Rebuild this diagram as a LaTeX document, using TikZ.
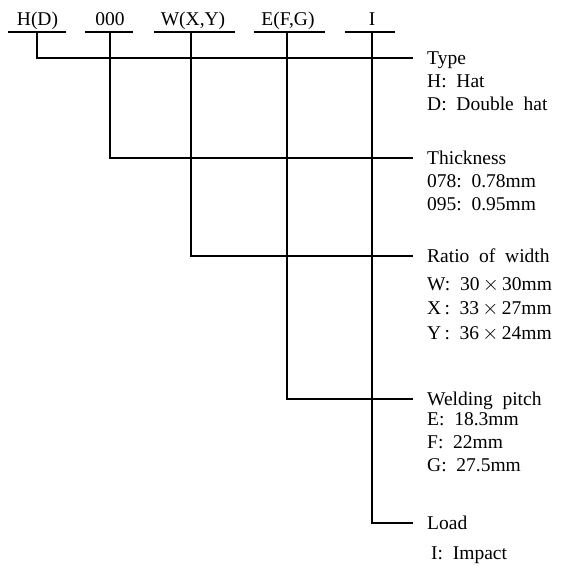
\documentclass[tikz,border=0pt]{standalone}
\usepackage{fontspec}
\setmainfont{Liberation Serif}
\newcommand\dsp{\hspace{0.5em}}
\newcommand\tms{\,$\times$\,}
\begin{document}
\begin{tikzpicture}[x=1pt,y=-1pt,
  lab/.style={inner sep=0pt, anchor=base, font=\fontsize{19.5}{23}\selectfont},
  txt/.style={inner sep=0pt, anchor=base west, font=\fontsize{19.5}{23}\selectfont},
  ln/.style={line width=1.2pt},
  lead/.style={ln}]
\useasboundingbox (0,0) rectangle (566,566);
% top code labels
\node[lab] (hd) at (37.5,25) {H(D)};
\node[lab] (th) at (110,25) {000};
\node[lab] (wx) at (193,25) {W(X,Y)};
\node[lab] (ef) at (288,25) {E(F,G)};
\node[lab] (ld) at (372,25) {I};
% underlines
\draw[ln] (8,32) -- (66,32);
\draw[ln] (85,32) -- (133,32);
\draw[ln] (154,32) -- (235,32);
\draw[ln] (254,32) -- (325,32);
\draw[ln] (345,32) -- (395,32);
\coordinate (u1) at (37,32);
\coordinate (u2) at (110,32);
\coordinate (u3) at (191,32);
\coordinate (u4) at (287,32);
\coordinate (u5) at (372,32);
% right side texts
\node[txt] (type) at (427,64.5) {Type};
\node[txt] (t1) at (427,87) {H:\dsp Hat};
\node[txt] (t2) at (427,110) {D:\dsp Double\dsp hat};
\node[txt] (thk) at (427,164.5) {Thickness};
\node[txt] (k1) at (427,187) {078:\dsp 0.78mm};
\node[txt] (k2) at (427,210) {095:\dsp 0.95mm};
\node[txt] (rat) at (427,262.5) {Ratio\dsp of\dsp width};
\node[txt] (r1) at (427,290) {W:\dsp 30\tms 30mm};
\node[txt] (r2) at (427,314.5) {X\,:\dsp 33\tms 27mm};
\node[txt] (r3) at (427,339) {Y\,:\dsp 36\tms 24mm};
\node[txt] (wel) at (427,405.5) {Welding\dsp pitch};
\node[txt] (w1) at (427,425) {E:\dsp 18.3mm};
\node[txt] (w2) at (427,448.5) {F:\dsp 22mm};
\node[txt] (w3) at (427,471.5) {G:\dsp 27.5mm};
\node[txt] (lod) at (427,529.5) {Load};
\node[txt] (l1) at (431,559) {I:\dsp Impact};
% connectors
\draw[lead] (u1) |- ([shift={(-14pt,6.5pt)}]type.base west);
\draw[lead] (u2) |- ([shift={(-14pt,6.5pt)}]thk.base west);
\draw[lead] (u3) |- ([shift={(-14pt,6.5pt)}]rat.base west);
\draw[lead] (u4) |- ([shift={(-14pt,6.5pt)}]wel.base west);
\draw[lead] (u5) |- ([shift={(-14pt,6.5pt)}]lod.base west);
\end{tikzpicture}
\end{document}
